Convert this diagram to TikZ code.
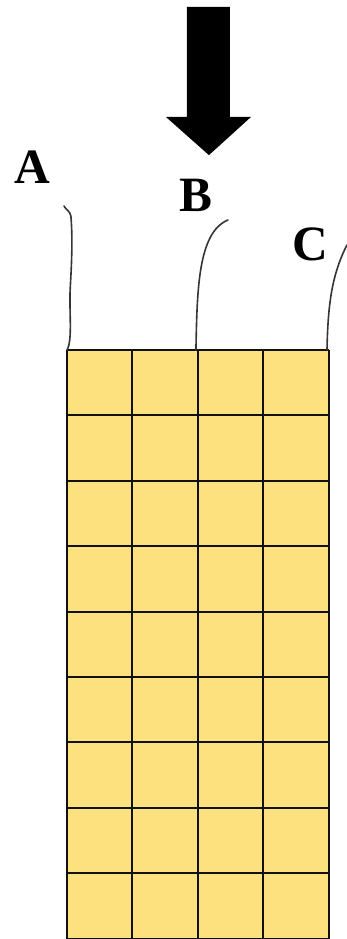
\documentclass[tikz,border=0pt]{standalone}
\usepackage{fontspec}
\setmainfont{Liberation Serif}
\usepackage{xcolor}
\usetikzlibrary{positioning}
\definecolor{cellYellow}{HTML}{FDE17E}
\definecolor{ink}{HTML}{111111}

\begin{document}
\begin{tikzpicture}[x=1cm,y=1cm]
  \tikzset{
    wire/.style={ink!85, line width=0.7pt, line cap=round},
    tag/.style={font=\fontsize{21.5}{24}\selectfont\bfseries, inner sep=0pt}
  }
  \useasboundingbox (-1.024,-9.006) rectangle (4.281,5.352);
  % grid of 4 x 9 cells, top left at origin
  \fill[cellYellow] (0,0) rectangle (4,-9);
  \foreach \i in {0,...,4}{
    \draw[ink, line width=0.9pt] (\i,0) -- (\i,-9);
  }
  \foreach \j in {0,...,9}{
    \draw[ink, line width=0.9pt] (0,-\j) -- (4,-\j);
  }
  % corner points where the wires leave the block
  \coordinate (pA) at (0,0);
  \coordinate (pB) at (1.972,0);
  \coordinate (pC) at (3.976,0);
  % free ends of the wires
  \coordinate (eA) at (-0.046,2.202);
  \coordinate (eB) at (2.462,1.988);
  \coordinate (eC) at (4.281,1.606);
  \draw[wire] (pA) .. controls (0.09,0.15) and (0.03,0.6) .. (0.05,0.95)
    .. controls (0.07,1.3) and (0.09,1.7) .. (0.06,2.05)
    .. controls (0.05,2.12) and (-0.02,2.15) .. (eA);
  \draw[wire] (pB) .. controls (1.99,0.9) and (2.0,1.8) .. (eB);
  \draw[wire] (pC) .. controls (3.99,0.7) and (4.05,1.15) .. (eC);
  % labels
  \node[tag] (A) at (-0.535,2.80) {A};
  \node[tag] (B) at (1.97,2.37) {B};
  \node[tag] (C) at (3.72,1.62) {C};
  % load arrow
  \fill[black] (1.835,5.245) -- (2.49,5.245) -- (2.49,3.563) -- (2.813,3.563)
    -- (2.171,2.98) -- (1.514,3.563) -- (1.835,3.563) -- cycle;
\end{tikzpicture}
\end{document}
